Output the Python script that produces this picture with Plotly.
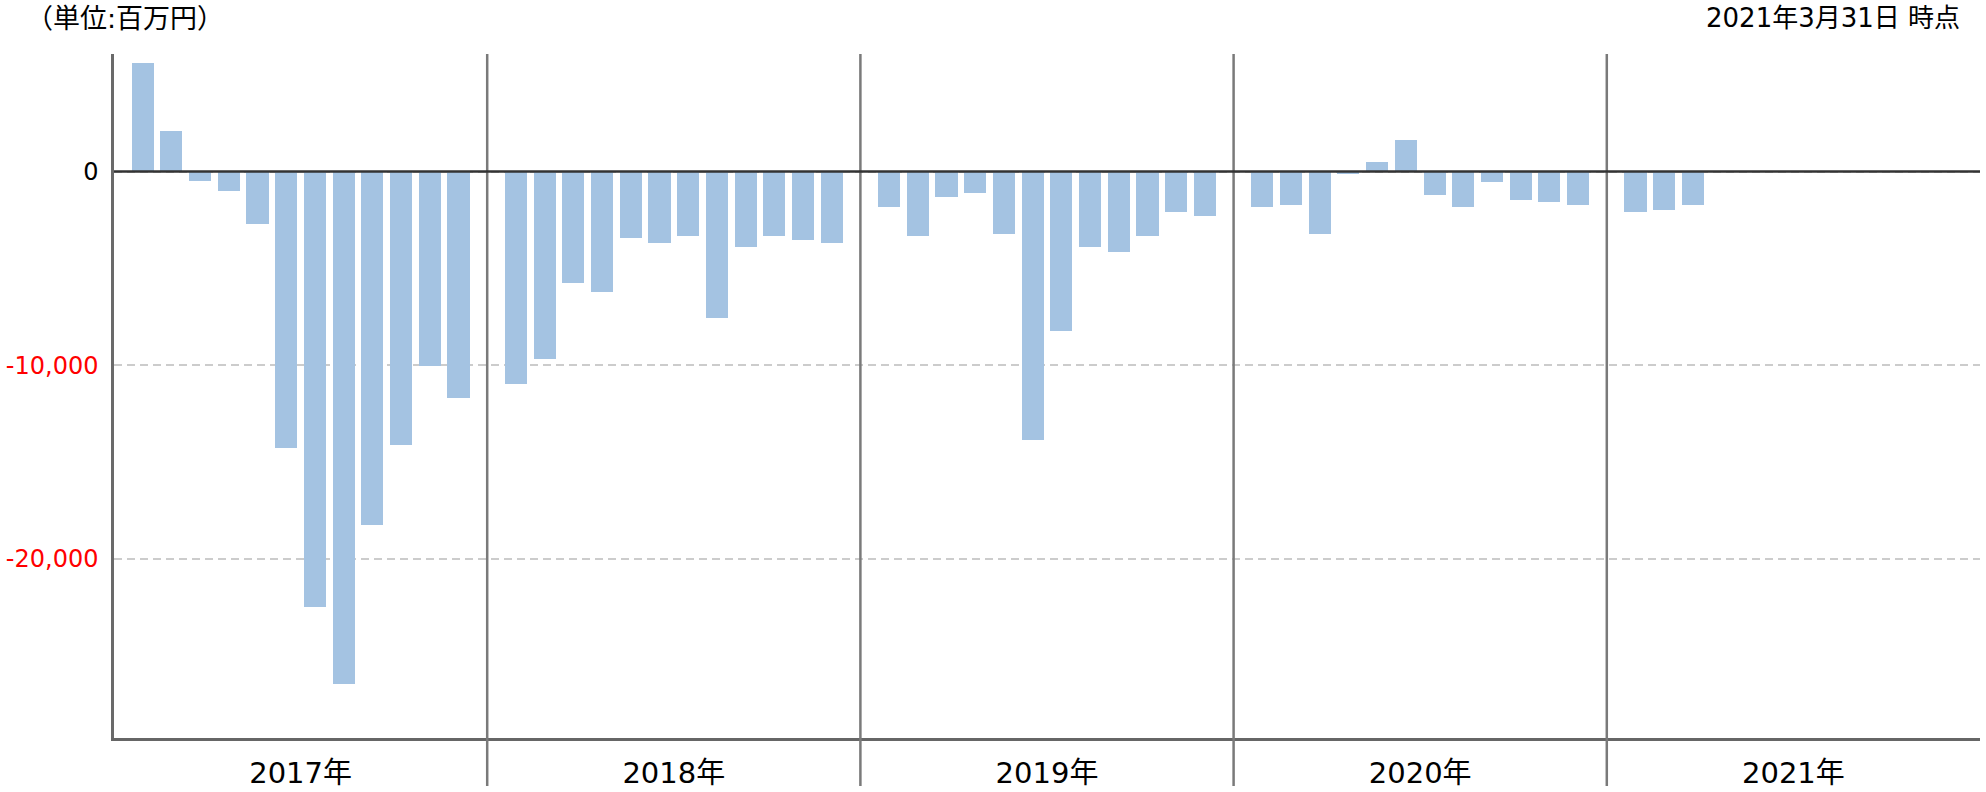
import plotly.graph_objects as go

# ---- data (百万円) ----
years = ["2017年", "2018年", "2019年", "2020年", "2021年"]
months = [1, 2, 3, 4, 5, 6, 7, 8, 9, 10, 11, 12]
values_2017 = [5600, 2100, -500, -1000, -2700, -14300, -22500, -26450, -18250, -14100, -10050, -11700]
values_2018 = [-10950, -9700, -5750, -6200, -3450, -3700, -3350, -7550, -3900, -3350, -3550, -3700]
values_2019 = [-1850, -3350, -1300, -1100, -3250, -13850, -8250, -3900, -4150, -3350, -2100, -2300]
values_2020 = [-1850, -1750, -3250, -150, 500, 1650, -1200, -1850, -550, -1450, -1550, -1750]
values_2021 = [-2100, -2000, -1750]
series = [values_2017, values_2018, values_2019, values_2020, values_2021]
y_tickvals = [0, -10000, -20000]
y_ticktext = ["0", "-10,000", "-20,000"]
title_left = "（単位:百万円）"
title_right = "2021年3月31日 時点"

SLOTS = 13  # 12 months + 1 spacer slot per year block

xs, ys = [], []
for yi, vals in enumerate(series):
    for mi, v in enumerate(vals):
        xs.append(yi * SLOTS + months[mi])
        ys.append(v)

FONT = "Verdana, DejaVu Sans, Noto Sans CJK JP, sans-serif"

fig = go.Figure()
fig.add_trace(go.Bar(x=xs, y=ys, width=0.77, marker=dict(color="#a4c3e2", line=dict(width=0)),
                     showlegend=False, hoverinfo="y"))

# year separators
for k in range(1, len(years)):
    fig.add_shape(type="line", xref="x", yref="paper", x0=k * SLOTS, x1=k * SLOTS, y0=1, y1=-0.07,
                  line=dict(color="#7a7a7a", width=2.5), layer="above")
# zero baseline drawn above the bars
fig.add_shape(type="line", xref="paper", yref="y", x0=0, x1=1, y0=0, y1=0,
              line=dict(color="#333333", width=2.5), layer="above")

ticktext_colored = [t if v == 0 else f'<span style="color:#ff0000">{t}</span>' for v, t in zip(y_tickvals, y_ticktext)]

fig.update_layout(
    width=1986, height=792,
    margin=dict(l=114, r=6, t=54, b=54, autoexpand=False),
    paper_bgcolor="white", plot_bgcolor="white",
    font=dict(family=FONT, color="#000000"),
    bargap=0,
    xaxis=dict(
        range=[0, len(years) * SLOTS],
        tickvals=[yi * SLOTS + SLOTS / 2 for yi in range(len(years))],
        ticktext=years,
        tickfont=dict(size=29, color="#000000"),
        ticks="", showgrid=False, zeroline=False,
        showline=True, linecolor="#666666", linewidth=2.5,
        ticklabelstandoff=7,
        automargin=False,
        fixedrange=True,
    ),
    yaxis=dict(
        range=[-29250, 6070],
        tickvals=y_tickvals, ticktext=ticktext_colored,
        tickfont=dict(size=24, color="#000000"),
        ticks="", showgrid=True, gridcolor="#cccccc", gridwidth=2, griddash="8px,5px",
        zeroline=False,
        showline=True, linecolor="#6a6a6a", linewidth=2.5,
        ticklabelstandoff=8,
        automargin=False,
        fixedrange=True,
    ),
    annotations=[
        dict(text=title_left, xref="paper", yref="paper", x=(24 - 114) / 1866, y=(738 - 18) / 684,
             xanchor="left", yanchor="middle", showarrow=False, font=dict(size=27, color="#000000")),
        dict(text=title_right, xref="paper", yref="paper", x=(1962 - 114) / 1866, y=(738 - 18) / 684,
             xanchor="right", yanchor="middle", showarrow=False, font=dict(size=26, color="#000000")),
    ],
)

fig.write_html("out.html")
